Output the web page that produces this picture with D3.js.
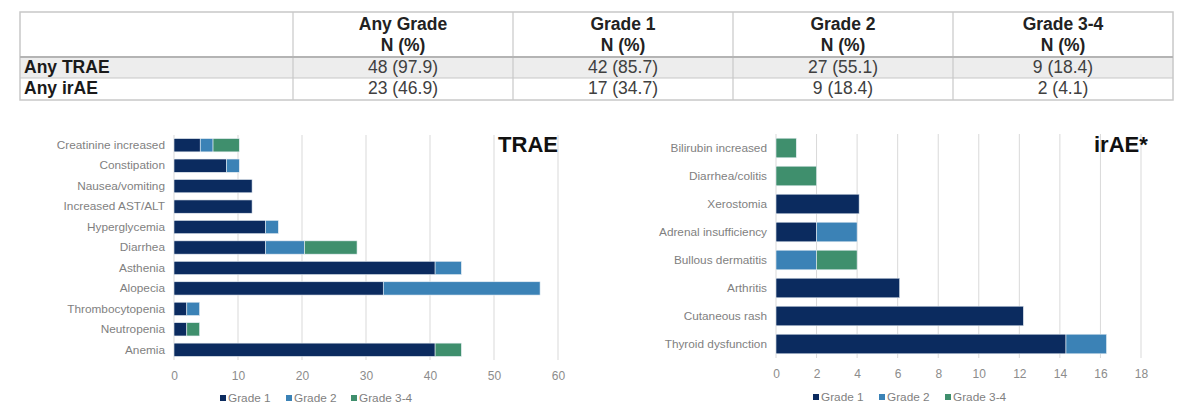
<!DOCTYPE html>
<html>
<head>
<meta charset="utf-8">
<script src="https://cdn.jsdelivr.net/npm/d3@7"></script>
<style>
  body { margin: 0; background: #fff; }
  svg { font-family: "Liberation Sans", Arial, sans-serif; }
  .tick text { fill: #8c8c8c; font-size: 12px; }
  .cat text { fill: #7f7f7f; font-size: 11.8px; }
</style>
</head>
<body>
<svg width="1200" height="411"></svg>
<script>
// table
const tableHead = ["Any Grade", "Grade 1", "Grade 2", "Grade 3-4"];
const tableRowNames = ["Any TRAE", "Any irAE"];
const tableTRAE = ["48 (97.9)", "42 (85.7)", "27 (55.1)", "9 (18.4)"];
const tableIrAE = ["23 (46.9)", "17 (34.7)", "9 (18.4)", "2 (4.1)"];

// grades
const grades = ["Grade 1", "Grade 2", "Grade 3-4"];
const gradeColors = ["#0b2b5f", "#3b82b6", "#3f8f6d"];

// TRAE chart (top to bottom)
const traeCats = ["Creatinine increased", "Constipation", "Nausea/vomiting", "Increased AST/ALT",
  "Hyperglycemia", "Diarrhea", "Asthenia", "Alopecia", "Thrombocytopenia", "Neutropenia", "Anemia"];
const traeG1 = [4.1, 8.2, 12.2, 12.2, 14.3, 14.3, 40.8, 32.7, 2.0, 2.0, 40.8];
const traeG2 = [2.0, 2.0, 0, 0, 2.0, 6.1, 4.1, 24.5, 2.0, 0, 0];
const traeG3 = [4.1, 0, 0, 0, 0, 8.2, 0, 0, 0, 2.0, 4.1];
const traeTicks = [0, 10, 20, 30, 40, 50, 60];

// irAE chart (top to bottom)
const iraeCats = ["Bilirubin increased", "Diarrhea/colitis", "Xerostomia", "Adrenal insufficiency",
  "Bullous dermatitis", "Arthritis", "Cutaneous rash", "Thyroid dysfunction"];
const iraeG1 = [0, 0, 4.1, 2.0, 0, 6.1, 12.2, 14.3];
const iraeG2 = [0, 0, 0, 2.0, 2.0, 0, 0, 2.0];
const iraeG3 = [1.0, 2.0, 0, 0, 2.0, 0, 0, 0];
const iraeTicks = [0, 2, 4, 6, 8, 10, 12, 14, 16, 18];

const svg = d3.select("svg");

// ---- table ----
const tab = svg.append("g");
const colEdges = [20, 293, 513, 733, 953, 1173];
const rowEdges = [12, 57, 78, 100];

tab.append("rect").attr("x", 20).attr("y", rowEdges[1]).attr("width", 1153)
  .attr("height", rowEdges[2] - rowEdges[1]).attr("fill", "#ededed");
tab.append("rect").attr("x", 20).attr("y", 12).attr("width", 1153).attr("height", 88)
  .attr("fill", "none").attr("stroke", "#c8c8c8").attr("stroke-width", 1.5);
colEdges.slice(1, 5).forEach(x => {
  tab.append("line").attr("x1", x).attr("x2", x).attr("y1", 12).attr("y2", 100)
    .attr("stroke", "#c8c8c8").attr("stroke-width", 1.2);
});
tab.append("line").attr("x1", 20).attr("x2", 1173).attr("y1", 57).attr("y2", 57)
  .attr("stroke", "#b4b4b4").attr("stroke-width", 2);
tab.append("line").attr("x1", 20).attr("x2", 1173).attr("y1", 78).attr("y2", 78)
  .attr("stroke", "#c8c8c8").attr("stroke-width", 1.2);

tableHead.forEach((h, i) => {
  const cx = (colEdges[i + 1] + colEdges[i + 2]) / 2;
  tab.append("text").attr("x", cx).attr("y", 30).attr("text-anchor", "middle")
    .attr("font-size", 17.5).attr("font-weight", "bold").attr("fill", "#222").text(h);
  tab.append("text").attr("x", cx).attr("y", 51).attr("text-anchor", "middle")
    .attr("font-size", 17.5).attr("font-weight", "bold").attr("fill", "#222").text("N (%)");
});
[tableTRAE, tableIrAE].forEach((row, r) => {
  const y = rowEdges[r + 1] + 16;
  tab.append("text").attr("x", 24).attr("y", y).attr("font-size", 17.5)
    .attr("font-weight", "bold").attr("fill", "#1a1a1a").text(tableRowNames[r]);
  row.forEach((v, i) => {
    const cx = (colEdges[i + 1] + colEdges[i + 2]) / 2;
    tab.append("text").attr("x", cx).attr("y", y).attr("text-anchor", "middle")
      .attr("font-size", 17.5).attr("fill", "#404040").text(v);
  });
});

// ---- bar charts ----
function drawChart(opt) {
  const rows = opt.cats.map((c, i) => ({ cat: c, g1: opt.g1[i], g2: opt.g2[i], g3: opt.g3[i] }));
  const stack = d3.stack().keys(["g1", "g2", "g3"]);
  const stacked = stack(rows);

  const x = d3.scaleLinear().domain([0, opt.max]).range([opt.x0, opt.x1]);
  const y = d3.scaleBand().domain(opt.cats).range([opt.top, opt.bottom]).paddingInner(opt.pad).paddingOuter(opt.pad / 2);
  const g = svg.append("g");

  // grid
  g.append("g").selectAll("line").data(opt.ticks).join("line")
    .attr("x1", d => x(d)).attr("x2", d => x(d))
    .attr("y1", opt.top).attr("y2", opt.bottom)
    .attr("stroke", "#d9d9d9").attr("stroke-width", 1);

  // title
  g.append("text").attr("x", opt.titleX).attr("y", 152).attr("font-size", 22)
    .attr("font-weight", "bold")
    .attr("fill", "#111").attr("text-anchor", opt.titleAnchor).text(opt.title);

  // bars
  g.append("g").selectAll("g").data(stacked).join("g")
    .attr("fill", (d, i) => gradeColors[i])
    .selectAll("rect").data(d => d.filter(e => e[1] - e[0] > 0)).join("rect")
    .attr("x", d => x(d[0]))
    .attr("width", d => x(d[1]) - x(d[0]))
    .attr("y", d => y(d.data.cat))
    .attr("height", y.bandwidth())
    .attr("stroke", "#e8eef4").attr("stroke-width", 0.6);

  // x axis
  const xa = g.append("g").attr("transform", `translate(0,${opt.bottom + 6})`)
    .call(d3.axisBottom(x).tickValues(opt.ticks).tickSize(0).tickPadding(5));
  xa.select(".domain").remove();

  // y axis labels
  const ya = g.append("g").attr("class", "cat").attr("transform", `translate(${opt.x0 - 9},0)`)
    .call(d3.axisLeft(y).tickSize(0).tickPadding(0));
  ya.select(".domain").remove();

  // legend
  const lg = g.append("g").attr("transform", `translate(0,${opt.legY})`);
  grades.forEach((gr, i) => {
    const lx = opt.legX[i];
    lg.append("rect").attr("x", lx).attr("y", -7).attr("width", 6).attr("height", 6)
      .attr("fill", gradeColors[i]);
    lg.append("text").attr("x", lx + 8).attr("y", 0).attr("font-size", 11.8)
      .attr("fill", "#7f7f7f").text(gr);
  });
}

drawChart({
  cats: traeCats, g1: traeG1, g2: traeG2, g3: traeG3, ticks: traeTicks, max: 60,
  x0: 174, x1: 558, top: 135, bottom: 360, pad: 0.35,
  title: "TRAE", titleX: 558, titleAnchor: "end",
  legY: 402, legX: [220, 286, 351]
});

drawChart({
  cats: iraeCats, g1: iraeG1, g2: iraeG2, g3: iraeG3, ticks: iraeTicks, max: 18,
  x0: 776, x1: 1141, top: 134, bottom: 358, pad: 0.3,
  title: "irAE*", titleX: 1094, titleAnchor: "start",
  legY: 401, legX: [813, 879, 945]
});
</script>
</body>
</html>
